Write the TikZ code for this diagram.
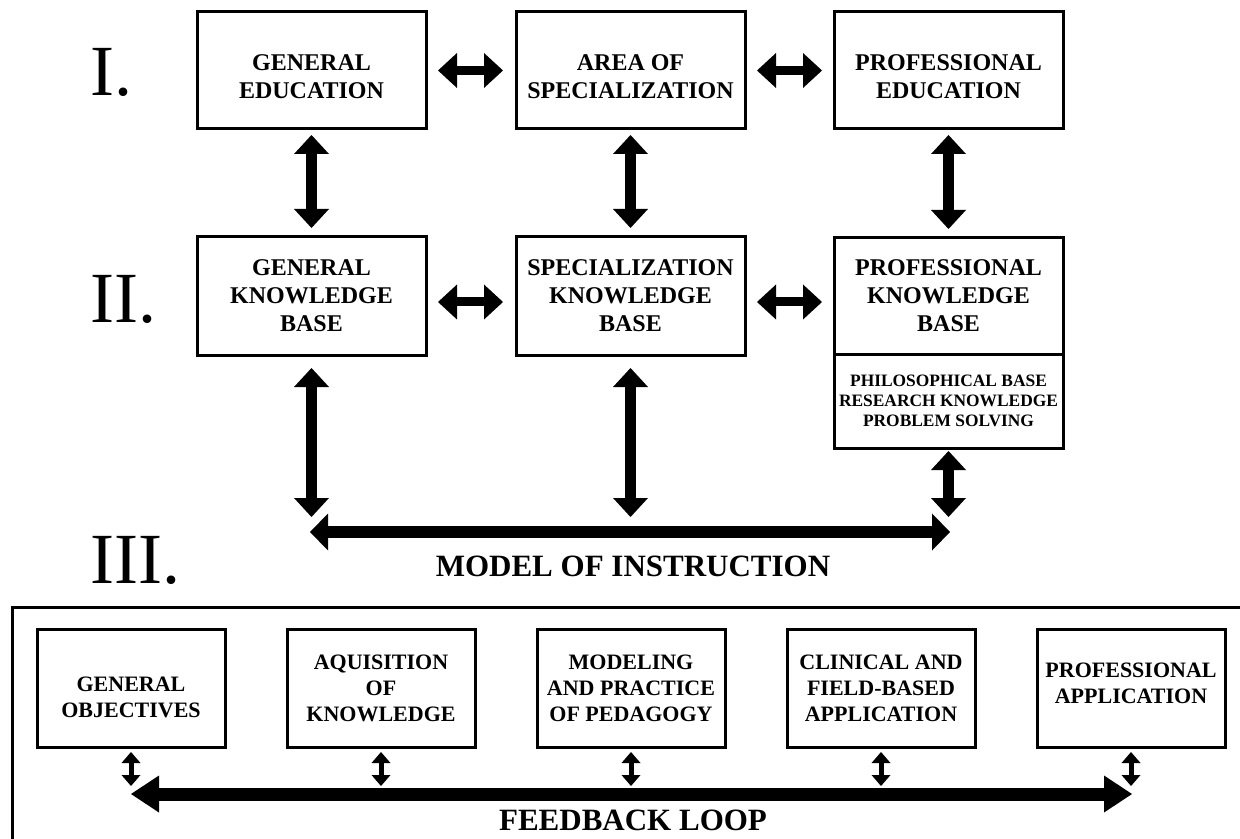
\documentclass[tikz,border=0pt]{standalone}
\usepackage{fontspec}
\setmainfont{Liberation Serif}
\usetikzlibrary{arrows.meta,positioning}

\newcommand{\capdown}[1]{\rule{0pt}{#1}}

\tikzset{
  box/.style={draw, line width=1.5pt, inner sep=0pt, outer sep=0pt, align=center},
  bigbox/.style={box, minimum width=114.5pt, minimum height=59pt, font=\fontsize{12}{14}\selectfont\bfseries},
  smallbox/.style={box, minimum width=94pt, minimum height=59pt, font=\fontsize{11}{13}\selectfont\bfseries},
  capraise/.style={execute at end node={\rule[-#1]{0pt}{0pt}}},
  numeral/.style={inner sep=0pt, font=\fontsize{36}{40}\selectfont},
  lbl/.style={inner sep=0pt, font=\fontsize{15.5}{18}\selectfont\bfseries},
  harr/.style={{Triangle[length=9.5pt,width=17.5pt,line width=0pt]}-{Triangle[length=9.5pt,width=17.5pt,line width=0pt]}, line width=4.5pt},
  varr/.style={{Triangle[length=9.5pt,width=17.5pt,line width=0pt]}-{Triangle[length=9.5pt,width=17.5pt,line width=0pt]}, line width=5.75pt},
  modarr/.style={{Triangle[length=9pt,width=18.5pt,line width=0pt]}-{Triangle[length=9pt,width=18.5pt,line width=0pt]}, line width=6pt},
  loparr/.style={{Triangle[length=14pt,width=18.5pt,line width=0pt]}-{Triangle[length=14pt,width=18.5pt,line width=0pt]}, line width=6.5pt},
  tinyarr/.style={{Triangle[length=5.5pt,width=9.5pt,line width=0pt]}-{Triangle[length=5.5pt,width=9.5pt,line width=0pt]}, line width=2.5pt}
}

\begin{document}
\begin{tikzpicture}[x=0.5pt, y=-0.5pt]
  \useasboundingbox (0,0) rectangle (1240,839);
  \clip (0,0) rectangle (1240,839);

  % levels
  \node[numeral, anchor=base west] (n1) at (90,96) {I.};
  \node[numeral, anchor=base west] (n2) at (90,322) {II.};
  \node[numeral, anchor=base west] (n3) at (90,583) {III.};

  % row I
  \node[bigbox, minimum height=58.5pt] (ge) at (311.5,70.5) {\capdown{14.5pt}GENERAL\\EDUCATION};
  \node[bigbox, minimum height=58.5pt, right=45pt of ge] (as) {\capdown{14.5pt}AREA OF\\SPECIALIZATION};
  \node[bigbox, minimum height=58.5pt, right=44.5pt of as] (pe) {\capdown{14.5pt}PROFESSIONAL\\EDUCATION};

  % row II
  \node[bigbox, below=54pt of ge] (gk) {GENERAL\\KNOWLEDGE\\BASE};
  \node[bigbox, right=45pt of gk] (sk) {SPECIALIZATION\\KNOWLEDGE\\BASE};
  \node[bigbox, minimum height=58pt, right=44.5pt of sk] (pk) {PROFESSIONAL\\KNOWLEDGE\\BASE};
  \node[box, minimum width=114.5pt, minimum height=47pt, below=0pt of pk, font=\fontsize{8.7}{10}\selectfont\bfseries] (pkx)
    {PHILOSOPHICAL BASE\\RESEARCH KNOWLEDGE\\PROBLEM SOLVING};

  \draw[harr] ([xshift=6pt]ge.east) -- ([xshift=-6.5pt]as.west);
  \draw[harr] ([xshift=6pt]as.east) -- ([xshift=-6pt]pe.west);
  \draw[harr] ([xshift=6pt,yshift=-3pt]gk.east) -- ([xshift=-6.5pt,yshift=-3pt]sk.west);
  \draw[harr] ([xshift=6pt,yshift=-3pt]sk.east) -- ([xshift=-6pt,yshift=-3pt]pk.west);

  \draw[varr] ([yshift=-3pt]ge.south) -- ([yshift=4.5pt]gk.north);
  \draw[varr] ([yshift=-3pt]as.south) -- ([yshift=4.5pt]sk.north);
  \draw[varr] ([yshift=-3pt]pe.south) -- ([yshift=4.5pt]pk.north);

  % model of instruction
  \coordinate (ml) at (310,532);
  \coordinate (mr) at (950,532);
  \draw[varr] ([yshift=-6.5pt]gk.south) -- ([yshift=7.5pt]gk.south |- ml);
  \draw[varr] ([yshift=-6.5pt]sk.south) -- ([yshift=7.5pt]sk.south |- ml);
  \draw[varr] ([yshift=-1.5pt]pkx.south) -- ([yshift=7.5pt]pkx.south |- ml);
  \draw[modarr] (ml) -- (mr);
  \node[lbl] (mi) at (633,566) {MODEL OF INSTRUCTION};

  % row III
  \draw[line width=1.5pt] (12,607) rectangle (1280,880);
  \node[smallbox] (go) at (131,688) {\capdown{16.3pt}GENERAL\\OBJECTIVES};
  \node[smallbox, right=31pt of go] (ak) {AQUISITION\\OF\\KNOWLEDGE};
  \node[smallbox, right=31pt of ak] (mp) {MODELING\\AND PRACTICE\\OF PEDAGOGY};
  \node[smallbox, right=31pt of mp] (cf) {CLINICAL AND\\FIELD-BASED\\APPLICATION};
  \node[smallbox, capraise=5pt, right=31pt of cf] (pa) {PROFESSIONAL\\APPLICATION};

  \coordinate (fl) at (131,794);
  \coordinate (fr) at (1132,794);
  \draw[tinyarr] ([yshift=-2.5pt]go.south) -- ([yshift=4pt]go.south |- fl);
  \draw[tinyarr] ([yshift=-2.5pt]ak.south) -- ([yshift=4pt]ak.south |- fl);
  \draw[tinyarr] ([yshift=-2.5pt]mp.south) -- ([yshift=4pt]mp.south |- fl);
  \draw[tinyarr] ([yshift=-2.5pt]cf.south) -- ([yshift=4pt]cf.south |- fl);
  \draw[tinyarr] ([yshift=-2.5pt]pa.south) -- ([yshift=4pt]pa.south |- fl);
  \draw[loparr] (fl) -- (fr);
  \node[lbl] (fb) at (633,820) {FEEDBACK LOOP};
\end{tikzpicture}
\end{document}
